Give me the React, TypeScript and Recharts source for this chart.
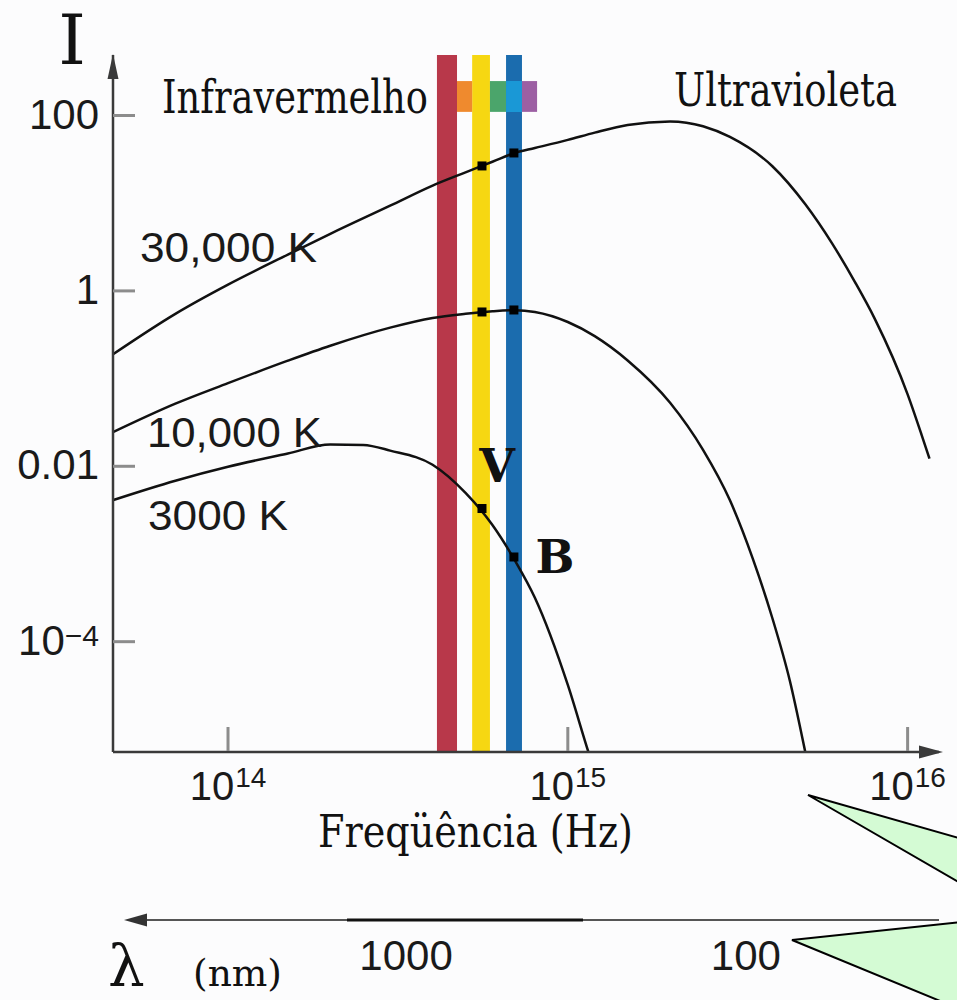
import React from "react";
import { ComposedChart, Line, Scatter, XAxis, YAxis, ReferenceArea } from "recharts";

// ---- data ----
const freq30k = [4.6e13, 7e13, 1e14, 1.5e14, 2e14, 3e14, 4e14, 5e14, 6e14, 7e14, 8e14, 1e15, 1.2e15, 1.5e15, 2e15, 2.5e15, 3e15, 4e15, 5e15, 6e15, 7e15, 8e15, 1e16, 1.1e16, 1.16e16];
const int30k = [0.191, 0.548, 1.18, 2.59, 4.47, 9.36, 15.9, 22.5, 29.7, 37.6, 42.6, 52.7, 63.8, 78.1, 85.7, 75.5, 56.9, 26.4, 9.72, 3.46, 1.26, 0.483, 0.0661, 0.0227, 0.0122];

const freq10k = [4.6e13, 7e13, 1e14, 1.5e14, 2e14, 3e14, 4e14, 5e14, 6e14, 7e14, 8e14, 1e15, 1.2e15, 1.5e15, 2e15, 2.5e15, 3e15, 3.5e15, 4e15, 4.5e15, 5e15, 5.2e15];
const int10k = [0.0246, 0.0517, 0.0886, 0.16, 0.237, 0.381, 0.491, 0.548, 0.586, 0.603, 0.575, 0.442, 0.305, 0.161, 0.053, 0.0154, 0.00409, 0.000891, 0.000185, 0.0000361, 0.0000055, 0.00000265];

const freq3k = [4.6e13, 7e13, 1e14, 1.5e14, 2e14, 2.5e14, 3e14, 4e14, 5e14, 6e14, 7e14, 8e14, 1e15, 1.15e15, 1.2e15];
const int3k = [0.00413, 0.00685, 0.00987, 0.014, 0.0177, 0.0175, 0.0151, 0.0104, 0.00497, 0.00214, 0.000832, 0.000317, 0.0000321, 0.0000055, 0.0000033];

// V and B filter frequencies and the marked intensities
const markFreq = [5.59e14, 6.94e14];
const mark30k = [26.6, 37.4];
const mark10k = [0.575, 0.606];
const mark3k = [0.0033, 0.000924];

// colour bands (frequency ranges)
const bandFrom = [4.12e14, 5.23e14, 6.58e14];
const bandTo = [4.72e14, 5.9e14, 7.33e14];
const bandColors = ["#b8384a", "#f6d712", "#1b6cae"];
const swatchFrom = [4.72e14, 5.9e14, 6.58e14, 7.33e14];
const swatchTo = [5.23e14, 6.58e14, 7.33e14, 8.12e14];
const swatchColors = ["#ef8a2e", "#4ba56b", "#1a98d6", "#9c5fa3"];
const swatchLow = 110;
const swatchHigh = 247;

// axes
const xDomain = [4.587e13, 1.237e16];
const yDomain = [5.52e-6, 489.8];
const xTicks = [1e14, 1e15, 1e16];
const xTickBase = ["10", "10", "10"];
const xTickExp = ["14", "15", "16"];
const yTicks = [100, 1, 0.01, 0.0001];
const yTickBase = ["100", "1", "0.01", "10"];
const yTickExp = ["", "", "", "\u22124"];
const wavelengthNm = [1000, 100];
const LIGHT_NM_HZ = 2.998e17;
const wavelengthTicks = wavelengthNm.map((nm) => LIGHT_NM_HZ / nm);

const toRows = (fs: number[], is: number[]) => fs.map((f, k) => ({ f, i: is[k] }));
const rows30k = toRows(freq30k, int30k);
const rows10k = toRows(freq10k, int10k);
const rows3k = toRows(freq3k, int3k);
const marks = [
  ...toRows(markFreq, mark30k),
  ...toRows(markFreq, mark10k),
  ...toRows(markFreq, mark3k),
];
const wlRows = wavelengthTicks.map((f) => ({ f, i: 1 }));

const SANS = "'Liberation Sans', Arial, Helvetica, sans-serif";
const SERIF = "'DejaVu Serif', 'Liberation Serif', serif";
const AXIS = "#3a3a3a";
const TICK = "#8c8c8c";

const YTick = (props: any) => {
  const { x, y, payload } = props;
  const k = yTicks.indexOf(payload.value);
  const exp = yTickExp[k];
  return (
    <g>
      <line x1={x} x2={x + 22} y1={y} y2={y} stroke={TICK} strokeWidth={3} />
      <text x={x - 14} y={y + 13} textAnchor="end" fontFamily={SANS} fontSize={42} fill="#1a1a1a">
        <tspan>{yTickBase[k]}</tspan>
        {exp ? (
          <tspan fontSize={30} dy={-9}>{exp}</tspan>
        ) : null}
      </text>
    </g>
  );
};

const XTick = (props: any) => {
  const { x, y, payload } = props;
  const k = xTicks.indexOf(payload.value);
  return (
    <g>
      <line x1={x} x2={x} y1={y - 25} y2={y - 1} stroke={TICK} strokeWidth={3} />
      <text x={x} y={y + 48} textAnchor="middle" fontFamily={SANS} fontSize={40} fill="#1a1a1a">
        <tspan>{xTickBase[k]}</tspan>
        <tspan fontSize={28} dy={-13} dx={1}>{xTickExp[k]}</tspan>
      </text>
    </g>
  );
};

const WlTick = (props: any) => {
  const { x, y, payload } = props;
  let k = 0;
  let best = Infinity;
  wavelengthTicks.forEach((t, j) => {
    const d = Math.abs(Math.log(t) - Math.log(payload.value));
    if (d < best) {
      best = d;
      k = j;
    }
  });
  return (
    <text x={x + 16} y={y + 50} textAnchor="middle" fontFamily={SANS} fontSize={42} fill="#1a1a1a">
      {String(wavelengthNm[k])}
    </text>
  );
};

const SquareDot = (props: any) => {
  const { cx, cy } = props;
  return <rect x={cx - 4.5} y={cy - 4.5} width={9} height={9} fill="#000" />;
};

export default function App() {
  return (
    <div style={{ position: "absolute", left: 0, top: 0, width: 957, height: 1000, background: "#fcfcfd", overflow: "hidden" }}>
      <ComposedChart width={957} height={1000} margin={{ top: 55, right: 18, bottom: 0, left: 0 }}>
        <XAxis
          xAxisId={0}
          dataKey="f"
          type="number"
          scale="log"
          domain={xDomain}
          allowDataOverflow
          ticks={xTicks}
          tick={<XTick />}
          tickSize={0}
          tickMargin={0}
          tickLine={false}
          height={168}
          axisLine={{ stroke: AXIS, strokeWidth: 2.5 }}
          interval={0}
        />
        <XAxis
          xAxisId="wl"
          dataKey="f"
          type="number"
          scale="log"
          domain={xDomain}
          allowDataOverflow
          ticks={wavelengthTicks}
          tick={<WlTick />}
          tickSize={0}
          tickMargin={0}
          tickLine={false}
          axisLine={false}
          height={80}
          interval={0}
        />
        <YAxis
          dataKey="i"
          type="number"
          scale="log"
          domain={yDomain}
          allowDataOverflow
          ticks={yTicks}
          tick={<YTick />}
          tickSize={0}
          tickMargin={0}
          tickLine={false}
          width={113}
          axisLine={{ stroke: AXIS, strokeWidth: 2.5 }}
          interval={0}
        />
        {bandFrom.map((x1, k) => (
          <ReferenceArea key={"b" + k} x1={x1} x2={bandTo[k]} y1={yDomain[0]} y2={yDomain[1]} fill={bandColors[k]} fillOpacity={1} stroke="none" ifOverflow="visible" />
        ))}
        {swatchFrom.map((x1, k) => (
          <ReferenceArea key={"s" + k} x1={x1} x2={swatchTo[k]} y1={swatchLow} y2={swatchHigh} fill={swatchColors[k]} fillOpacity={1} stroke="none" ifOverflow="visible" />
        ))}
        <Line data={rows30k} dataKey="i" type="monotone" stroke="#111" strokeWidth={2.5} dot={false} isAnimationActive={false} />
        <Line data={rows10k} dataKey="i" type="monotone" stroke="#111" strokeWidth={2.5} dot={false} isAnimationActive={false} />
        <Line data={rows3k} dataKey="i" type="monotone" stroke="#111" strokeWidth={2.5} dot={false} isAnimationActive={false} />
        <Line xAxisId="wl" data={wlRows} dataKey="i" stroke="none" strokeWidth={0} dot={false} activeDot={false} isAnimationActive={false} />
        <Scatter data={marks} dataKey="i" shape={<SquareDot />} isAnimationActive={false} />
      </ComposedChart>
      <svg width={957} height={1000} style={{ position: "absolute", left: 0, top: 0, pointerEvents: "none" }}>
        <text x={72} y={64} textAnchor="middle" fontFamily={SERIF} fontSize={70} fill="#111">I</text>
        <polygon points="113,54 107.5,79 118.5,79" fill={AXIS} />
        <polygon points="943,752 919,745.5 919,758.5" fill={AXIS} />
        <text x={162} y={113} fontFamily={SERIF} fontSize={46} textLength={266} lengthAdjust="spacingAndGlyphs" fill="#111">Infravermelho</text>
        <text x={674} y={106} fontFamily={SERIF} fontSize={46} textLength={223} lengthAdjust="spacingAndGlyphs" fill="#111">Ultravioleta</text>
        <text x={140} y={262} fontFamily={SANS} fontSize={42} textLength={177} lengthAdjust="spacingAndGlyphs" fill="#1a1a1a">30,000 K</text>
        <text x={147} y={447} fontFamily={SANS} fontSize={42} textLength={175} lengthAdjust="spacingAndGlyphs" fill="#1a1a1a">10,000 K</text>
        <text x={148} y={530} fontFamily={SANS} fontSize={42} textLength={140} lengthAdjust="spacingAndGlyphs" fill="#1a1a1a">3000 K</text>
        <text x={497} y={482} textAnchor="middle" fontFamily={SERIF} fontWeight="bold" fontSize={46} fill="#111">V</text>
        <text x={555} y={573} textAnchor="middle" fontFamily={SERIF} fontWeight="bold" fontSize={46} fill="#111">B</text>
        <text x={318} y={847} fontFamily={SERIF} fontSize={44} textLength={315} lengthAdjust="spacingAndGlyphs" fill="#111">Freqüência (Hz)</text>
        <line x1={138} x2={939} y1={920} y2={920} stroke="#555" strokeWidth={2} />
        <line x1={347} x2={583} y1={920} y2={920} stroke="#111" strokeWidth={3} />
        <polygon points="124,920 147,913.5 147,926.5" fill="#333" />
        <text x={108} y={986} fontFamily={SERIF} fontSize={58} fill="#111">λ</text>
        <text x={193} y={986} fontFamily={SERIF} fontSize={38} textLength={89} lengthAdjust="spacingAndGlyphs" fill="#111">(nm)</text>
        <polygon points="808,795 962,839 962,884" fill="#d4fbd4" stroke="#000" strokeWidth={2} />
        <polygon points="792,940 962,922 962,1010" fill="#d4fbd4" stroke="#000" strokeWidth={2} />
      </svg>
    </div>
  );
}
